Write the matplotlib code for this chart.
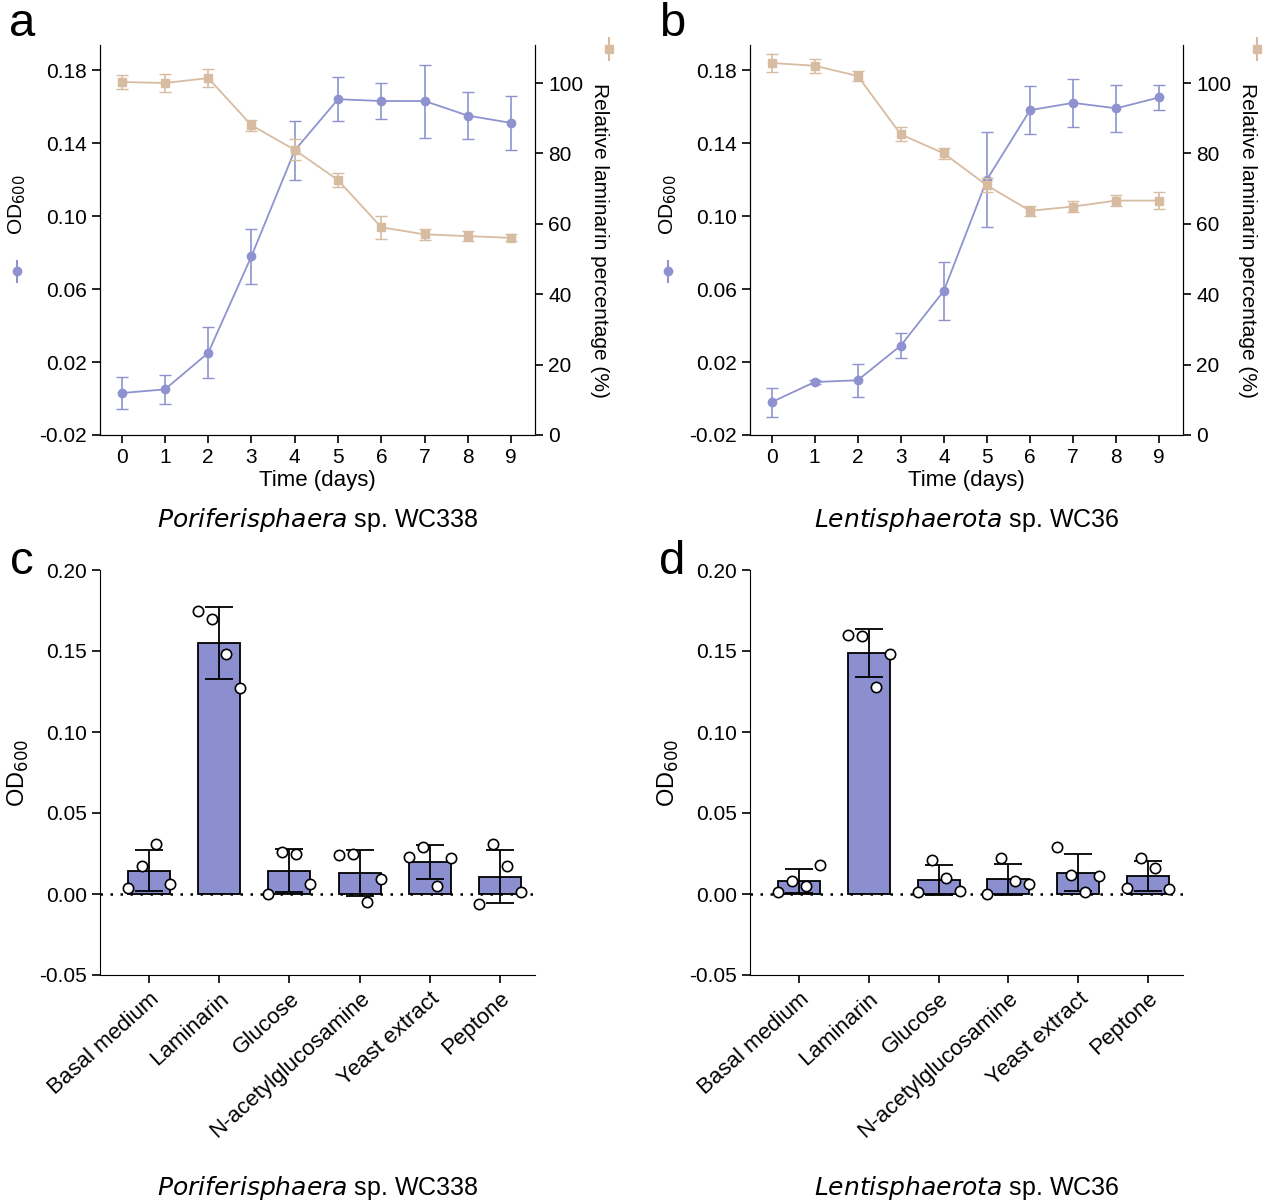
import numpy as np
import matplotlib.pyplot as plt

plt.rcParams["font.family"] = ["Liberation Sans", "DejaVu Sans"]
plt.rcParams["font.size"] = 15

days = np.arange(10)
od_a = [0.003, 0.005, 0.025, 0.078, 0.136, 0.164, 0.163, 0.163, 0.155, 0.151]
od_a_err = [0.009, 0.008, 0.014, 0.015, 0.016, 0.012, 0.010, 0.020, 0.013, 0.015]
lam_a = [100.3, 100.0, 101.4, 88.0, 81.0, 72.4, 59.0, 57.0, 56.5, 56.0]
lam_a_err = [2.0, 2.5, 2.5, 1.5, 3.0, 2.0, 3.2, 1.5, 1.5, 1.0]
od_b = [-0.002, 0.009, 0.010, 0.029, 0.059, 0.120, 0.158, 0.162, 0.159, 0.165]
od_b_err = [0.008, 0.001, 0.009, 0.007, 0.016, 0.026, 0.013, 0.013, 0.013, 0.007]
lam_b = [105.7, 104.9, 102.0, 85.4, 80.0, 70.9, 63.7, 64.9, 66.6, 66.6]
lam_b_err = [2.5, 2.0, 1.5, 2.0, 1.5, 2.0, 1.5, 1.5, 1.5, 2.5]

substrates = ["Basal medium", "Laminarin", "Glucose", "N-acetylglucosamine", "Yeast extract", "Peptone"]
reps_c = [[0.004, 0.017, 0.031, 0.006], [0.175, 0.170, 0.148, 0.127], [0.0, 0.026, 0.025, 0.006],
          [0.024, 0.025, -0.005, 0.009], [0.023, 0.029, 0.005, 0.022], [-0.006, 0.031, 0.017, 0.001]]
reps_d = [[0.001, 0.008, 0.005, 0.018], [0.160, 0.159, 0.128, 0.148], [0.001, 0.021, 0.010, 0.002],
          [0.0, 0.022, 0.008, 0.006], [0.029, 0.012, 0.001, 0.011], [0.004, 0.022, 0.016, 0.003]]

purple = "#8e93cf"
tan = "#d8bca2"
W, H = 1269, 1203

fig = plt.figure(figsize=(W / 100, H / 100), dpi=100)


def box(l, t, r, b):
    return [l / W, 1 - b / H, (r - l) / W, (b - t) / H]


def growth(rect, od, od_err, lam, lam_err, letter, genus):
    ax = fig.add_axes(box(*rect))
    ax2 = ax.twinx()
    ax.errorbar(days, od, yerr=od_err, color=purple, marker="o", ms=6, lw=1.3, capsize=4, elinewidth=1.2)
    ax2.errorbar(days, lam, yerr=lam_err, color=tan, marker="s", ms=6, lw=1.3, capsize=4, elinewidth=1.2)
    ax.set_ylim(-0.02, 0.1937)
    ax2.set_ylim(0, 110.8)
    ax.set_xlim(-0.5, 9.55)
    ax.set_yticks([-0.02, 0.02, 0.06, 0.10, 0.14, 0.18])
    ax.set_yticklabels(["-0.02", "0.02", "0.06", "0.10", "0.14", "0.18"])
    ax2.set_yticks([0, 20, 40, 60, 80, 100])
    ax.set_xticks(days)
    for a in (ax, ax2):
        a.spines["top"].set_visible(False)
        a.tick_params(width=1.2, length=6)
    ax.set_ylabel("OD$_{600}$")
    ax.yaxis.set_label_coords(-0.165, 0.59)
    ax2.set_ylabel("Relative laminarin percentage (%)", rotation=270, labelpad=22)
    ax2.yaxis.set_label_coords(1.17, 0.5)
    ax.set_xlabel("Time (days)", fontsize=16, labelpad=2)
    ax.text(0.5, -0.218, genus, transform=ax.transAxes, ha="center", va="center", fontsize=18)
    ax.errorbar([-0.19], [0.42], yerr=[0.03], transform=ax.transAxes, color=purple, marker="o", ms=6, clip_on=False)
    ax2.errorbar([1.17], [0.99], yerr=[0.03], transform=ax2.transAxes, color=tan, marker="s", ms=6, clip_on=False)
    ax.text(-0.18, 1.055, letter, transform=ax.transAxes, fontsize=34, va="center", ha="center")


def substrate(rect, reps, letter, genus):
    ax = fig.add_axes(box(*rect))
    x = np.arange(len(substrates))
    means = [np.mean(r) for r in reps]
    sds = [np.std(r, ddof=1) for r in reps]
    ax.bar(x, means, width=0.6, color="#8b8fd0", edgecolor="black", lw=1.3)
    ax.errorbar(x, means, yerr=sds, fmt="none", ecolor="black", capsize=10, elinewidth=1.3, capthick=1.3)
    offs = [-0.3, -0.1, 0.1, 0.3]
    for i, r in enumerate(reps):
        ax.scatter(i + np.array(offs), r, s=55, facecolor="white", edgecolor="black", lw=1.2, zorder=3)
    ax.axhline(0, color="black", ls=(0, (1, 3)), lw=1.8)
    ax.set_ylim(-0.05, 0.2)
    ax.set_xlim(-0.7, 5.5)
    ax.set_yticks([-0.05, 0, 0.05, 0.10, 0.15, 0.20])
    ax.set_yticklabels(["-0.05", "0.00", "0.05", "0.10", "0.15", "0.20"])
    ax.set_xticks(x)
    ax.set_xticklabels(substrates, rotation=42, ha="right", rotation_mode="anchor", fontsize=16)
    ax.spines["top"].set_visible(False)
    ax.spines["right"].set_visible(False)
    ax.tick_params(width=1.2, length=6)
    ax.set_ylabel("OD$_{600}$", fontsize=17, labelpad=6)
    ax.text(0.5, -0.525, genus, transform=ax.transAxes, ha="center", va="center", fontsize=18)
    ax.text(-0.18, 1.02, letter, transform=ax.transAxes, fontsize=34, va="center", ha="center")


growth((100, 45, 535, 435), od_a, od_a_err, lam_a, lam_a_err, "a", r"$\it{Poriferisphaera}$ sp. WC338")
growth((750, 45, 1183, 435), od_b, od_b_err, lam_b, lam_b_err, "b", r"$\it{Lentisphaerota}$ sp. WC36")
substrate((100, 570, 535, 975), reps_c, "c", r"$\it{Poriferisphaera}$ sp. WC338")
substrate((750, 570, 1183, 975), reps_d, "d", r"$\it{Lentisphaerota}$ sp. WC36")

fig.savefig("out.png", dpi=100)
